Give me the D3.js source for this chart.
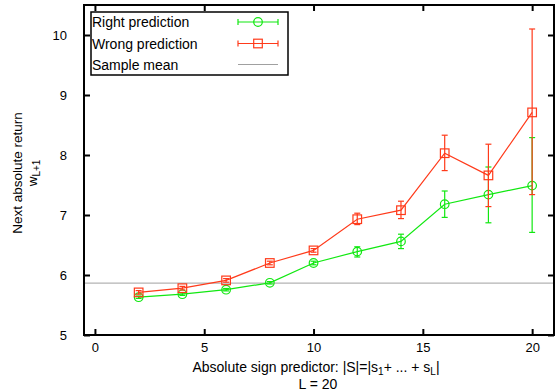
<!DOCTYPE html>
<html><head><meta charset="utf-8">
<script src="https://cdn.jsdelivr.net/npm/d3@7"></script>
<style>body{margin:0;background:#fff}svg{display:block;font-family:"Liberation Sans",Arial,sans-serif}</style>
</head><body>
<svg id="c" width="555" height="392"></svg>
<script>
const xs = [2,4,6,8,10,12,14,16,18,20];
const rightMean = [5.63,5.68,5.755,5.87,6.2,6.39,6.56,7.18,7.34,7.49];
const rightLo   = [5.61,5.66,5.735,5.85,6.17,6.30,6.44,6.96,6.87,6.71];
const rightHi   = [5.65,5.70,5.775,5.89,6.23,6.47,6.68,7.40,7.80,8.29];
const wrongMean = [5.71,5.78,5.91,6.20,6.41,6.93,7.08,8.03,7.66,8.71];
const wrongLo   = [5.68,5.75,5.88,6.17,6.38,6.84,6.94,7.74,7.14,7.34];
const wrongHi   = [5.74,5.81,5.94,6.23,6.44,7.03,7.23,8.33,8.18,10.10];
const sampleMean = 5.865;
const xTicks = [0,5,10,15,20];
const yTicks = [5,6,7,8,9,10];
const legendLabels = ["Right prediction","Wrong prediction","Sample mean"];

const svg = d3.select("#c");
const L=84,R=554,T=5,B=335;
const x = d3.scaleLinear().domain([-0.5,21]).range([L,R]);
const y = d3.scaleLinear().domain([5,10.5]).range([B,T]);
const green="#11e811", red="#ff3a1a", grey="#a0a0a0";

svg.append("line").attr("x1",L).attr("x2",R).attr("y1",y(sampleMean)).attr("y2",y(sampleMean))
  .attr("stroke",grey).attr("stroke-width",1);

const tl=6, fmt=d3.format("d");
const gB = svg.append("g").attr("transform",`translate(0,${B})`).call(d3.axisBottom(x).tickValues(xTicks).tickSize(-tl).tickPadding(8).tickFormat(fmt));
const gT = svg.append("g").attr("transform",`translate(0,${T})`).call(d3.axisTop(x).tickValues(xTicks).tickSize(-tl).tickFormat(""));
const gL = svg.append("g").attr("transform",`translate(${L},0)`).call(d3.axisLeft(y).tickValues(yTicks).tickSize(-tl).tickPadding(17).tickFormat(fmt));
const gR = svg.append("g").attr("transform",`translate(${R},0)`).call(d3.axisRight(y).tickValues(yTicks).tickSize(-tl).tickFormat(""));
[gB,gT,gL,gR].forEach(g=>{
  g.select(".domain").remove();
  g.selectAll(".tick line").attr("stroke","#000").attr("stroke-width",2);
  g.selectAll("text").attr("font-size",13).attr("fill","#000").attr("font-family","Liberation Sans, Arial, sans-serif");
});
gB.selectAll("text").attr("dy","0.71em");
svg.append("rect").attr("x",L).attr("y",T).attr("width",R-L).attr("height",B-T)
  .attr("fill","none").attr("stroke","#000").attr("stroke-width",2);

function drawMarker(g,cx,cy,color,marker){
  if(marker==="circle") g.append("circle").attr("cx",cx).attr("cy",cy).attr("r",4.3).attr("fill","none").attr("stroke",color).attr("stroke-width",1.2);
  else g.append("rect").attr("x",cx-4.3).attr("y",cy-4.3).attr("width",8.6).attr("height",8.6).attr("fill","none").attr("stroke",color).attr("stroke-width",1.2);
}
function series(mean,lo,hi,color,marker){
  const g=svg.append("g");
  g.append("path").datum(xs.map((v,i)=>[v,mean[i]]))
    .attr("d",d3.line().x(d=>x(d[0])).y(d=>y(d[1])))
    .attr("fill","none").attr("stroke",color).attr("stroke-width",1.2);
  xs.forEach((v,i)=>{
    const cx=x(v);
    g.append("line").attr("x1",cx).attr("x2",cx).attr("y1",y(lo[i])).attr("y2",y(hi[i])).attr("stroke",color).attr("stroke-width",1.2);
    [lo[i],hi[i]].forEach(e=>g.append("line").attr("x1",cx-3).attr("x2",cx+3).attr("y1",y(e)).attr("y2",y(e)).attr("stroke",color).attr("stroke-width",1.2));
    drawMarker(g,cx,y(mean[i]),color,marker);
  });
}
series(rightMean,rightLo,rightHi,green,"circle");
series(wrongMean,wrongLo,wrongHi,red,"square");

const lg=svg.append("g");
lg.append("rect").attr("x",91).attr("y",12).attr("width",197).attr("height",63).attr("fill","#fff").attr("stroke","#000").attr("stroke-width",1.5);
const rows=[22,43.5,64.5];
const cols=[green,red,grey];
legendLabels.forEach((t,i)=>{
  lg.append("text").attr("x",92).attr("y",rows[i]+5).attr("font-size",14).text(t);
  const x1=238,x2=278,yy=rows[i];
  lg.append("line").attr("x1",x1).attr("x2",x2).attr("y1",yy).attr("y2",yy).attr("stroke",cols[i]).attr("stroke-width",1.2);
  if(i<2){
    [x1,x2].forEach(xx=>lg.append("line").attr("x1",xx).attr("x2",xx).attr("y1",yy-3).attr("y2",yy+3).attr("stroke",cols[i]).attr("stroke-width",1.2));
    drawMarker(lg,(x1+x2)/2,yy,cols[i],i===0?"circle":"square");
  }
});

const xt=svg.append("text").attr("x",316).attr("y",372).attr("text-anchor","middle").attr("font-size",14);
xt.append("tspan").text("Absolute sign predictor: |S|=|s");
xt.append("tspan").attr("font-size",10).attr("dy",3).text("1");
xt.append("tspan").attr("dy",-3).text("+ ... + s");
xt.append("tspan").attr("font-size",10).attr("dy",3).text("L");
xt.append("tspan").attr("dy",-3).text("|");
svg.append("text").attr("x",318).attr("y",389).attr("text-anchor","middle").attr("font-size",14).text("L = 20");

svg.append("text").attr("transform","translate(22,173) rotate(-90)").attr("text-anchor","middle").attr("font-size",13.5).text("Next absolute return");
const yt2=svg.append("text").attr("transform","translate(37,173) rotate(-90)").attr("text-anchor","middle").attr("font-size",13.5);
yt2.append("tspan").text("w");
yt2.append("tspan").attr("font-size",10).attr("dy",3).text("L+1");
</script>
</body></html>
